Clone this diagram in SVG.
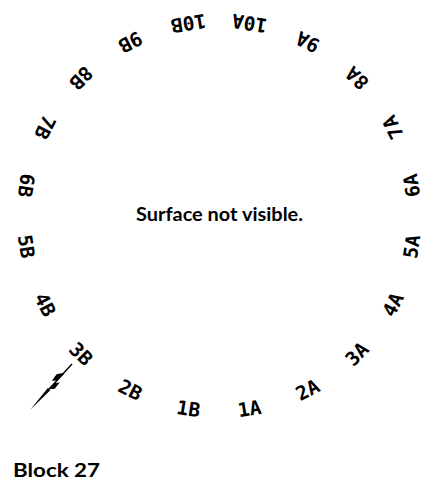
<svg xmlns="http://www.w3.org/2000/svg" width="425" height="492" viewBox="0 0 425 492">
<style>
.lbl{font-family:"DejaVu Sans Mono",monospace;font-size:19.5px;font-weight:bold;fill:#000;text-anchor:middle}
.title{font-family:Lato,"Liberation Sans",sans-serif;font-weight:bold;fill:#000}
</style>
<rect width="425" height="492" fill="#fff"/>
<g id="labels">
<g id="l1B" transform="rotate(9 219 216)"><text class="lbl" x="219" y="418">1B</text></g>
<g id="l2B" transform="rotate(27 219 216)"><text class="lbl" x="219" y="418">2B</text></g>
<g id="l3B" transform="rotate(45 219 216)"><text class="lbl" x="219" y="418">3B</text></g>
<g id="l4B" transform="rotate(63 219 216)"><text class="lbl" x="219" y="418">4B</text></g>
<g id="l5B" transform="rotate(81 219 216)"><text class="lbl" x="219" y="418">5B</text></g>
<g id="l6B" transform="rotate(99 219 216)"><text class="lbl" x="219" y="418">6B</text></g>
<g id="l7B" transform="rotate(117 219 216)"><text class="lbl" x="219" y="418">7B</text></g>
<g id="l8B" transform="rotate(135 219 216)"><text class="lbl" x="219" y="418">8B</text></g>
<g id="l9B" transform="rotate(153 219 216)"><text class="lbl" x="219" y="418">9B</text></g>
<g id="l10B" transform="rotate(171 219 216)"><text class="lbl" x="219" y="418">10B</text></g>
<g id="l10A" transform="rotate(189 219 216)"><text class="lbl" x="219" y="418">10A</text></g>
<g id="l9A" transform="rotate(207 219 216)"><text class="lbl" x="219" y="418">9A</text></g>
<g id="l8A" transform="rotate(225 219 216)"><text class="lbl" x="219" y="418">8A</text></g>
<g id="l7A" transform="rotate(243 219 216)"><text class="lbl" x="219" y="418">7A</text></g>
<g id="l6A" transform="rotate(261 219 216)"><text class="lbl" x="219" y="418">6A</text></g>
<g id="l5A" transform="rotate(279 219 216)"><text class="lbl" x="219" y="418">5A</text></g>
<g id="l4A" transform="rotate(297 219 216)"><text class="lbl" x="219" y="418">4A</text></g>
<g id="l3A" transform="rotate(315 219 216)"><text class="lbl" x="219" y="418">3A</text></g>
<g id="l2A" transform="rotate(333 219 216)"><text class="lbl" x="219" y="418">2A</text></g>
<g id="l1A" transform="rotate(351 219 216)"><text class="lbl" x="219" y="418">1A</text></g>
</g>
<g id="center-note"><text class="title" x="219.5" y="221" font-size="18" text-anchor="middle" textLength="167" lengthAdjust="spacingAndGlyphs">Surface not visible.</text></g>
<g id="block-title"><text class="title" x="13" y="477" font-size="19" textLength="87" lengthAdjust="spacingAndGlyphs">Block 27</text></g>
<g id="north-arrow" transform="matrix(-0.674 0.738 0.738 0.674 72 364)">
<line x1="0" y1="0" x2="15" y2="0" stroke="#000" stroke-width="1.4"/>
<path d="M13,-0.8 L18,-4.5 L26,-3.5 L23,-0.8 L35,-0.8 L30,4 L22,3.5 L25,0.8 L13,0.8 Z" fill="#000"/>
<path d="M34,-1.6 L62,0 L34,1.6 Z" fill="#000"/>
</g>
</svg>
